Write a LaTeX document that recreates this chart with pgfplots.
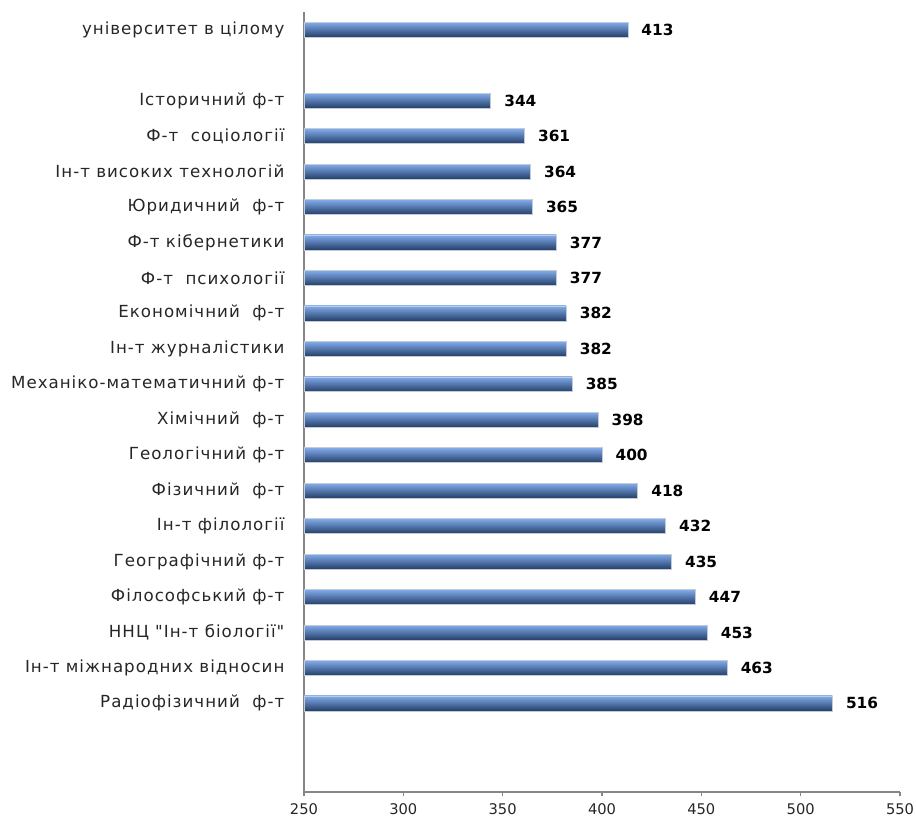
\documentclass[border=0pt]{standalone}
\usepackage{pgfplots}
\pgfplotsset{compat=1.18}
\usepackage{fontspec}
\setmainfont{DejaVu Sans}
\newfontfamily\labfont[LetterSpace=6,Ligatures=TeXOff]{DejaVu Sans}
\definecolor{axgray}{RGB}{134,134,134}
\definecolor{bartop}{RGB}{130,172,236}
\definecolor{barmid}{RGB}{80,128,200}
\definecolor{barbot}{RGB}{36,62,104}
\definecolor{barbrd}{RGB}{195,203,215}
\pgfplotsset{mybar/.style={xbar, bar width=0.42, bar shift=0pt,
  draw=barbrd, line width=0.4pt,
  top color=bartop, middle color=barmid, bottom color=barbot,
  nodes near coords,
  every node near coord/.append style={anchor=west, inner sep=0pt, xshift=10pt,
    font=\fontsize{11.5}{13}\selectfont\bfseries, text=black}}}
\begin{document}
\begin{tikzpicture}
\begin{axis}[
  scale only axis,
  width=447pt, height=585pt,
  xmin=250, xmax=550,
  ymin=0, ymax=22,
  xtick={250,300,...,550},
  axis x line*=bottom,
  axis y line*=left,
  axis line style={draw=axgray, line width=0.8pt},
  x tick style={draw=axgray, line width=0.8pt},
  tick align=outside,
  major tick length=3pt,
  ytick={2.5,3.5,...,19.5,21.5},
  yticklabels={
    Радіофізичний\ \ ф-т,
    Ін-т міжнародних відносин,
    ННЦ "Ін-т біології",
    Філософський ф-т,
    Географічний ф-т,
    Ін-т філології,
    Фізичний\ \ ф-т,
    Геологічний ф-т,
    Хімічний\ \ ф-т,
    Механіко-математичний ф-т,
    Ін-т журналістики,
    Економічний\ \ ф-т,
    Ф-т\ \ психології,
    Ф-т кібернетики,
    Юридичний\ \ ф-т,
    Ін-т високих технологій,
    Ф-т\ \ соціології,
    Історичний ф-т,
    університет в цілому},
  y tick style={draw=none},
  yticklabel style={font=\labfont\fontsize{12.5}{14}\selectfont, inner sep=0pt, xshift=-11.5pt, text=black!85},
  xticklabel style={font=\fontsize{11}{13}\selectfont, text=black!85},
  /pgf/number format/assume math mode=true,
  x tick label style={yshift=-2pt},
  clip=true,
]
\addplot[mybar] coordinates {(516,2.5)};
\addplot[mybar] coordinates {(463,3.5)};
\addplot[mybar] coordinates {(453,4.5)};
\addplot[mybar] coordinates {(447,5.5)};
\addplot[mybar] coordinates {(435,6.5)};
\addplot[mybar] coordinates {(432,7.5)};
\addplot[mybar] coordinates {(418,8.5)};
\addplot[mybar] coordinates {(400,9.5)};
\addplot[mybar] coordinates {(398,10.5)};
\addplot[mybar] coordinates {(385,11.5)};
\addplot[mybar] coordinates {(382,12.5)};
\addplot[mybar] coordinates {(382,13.5)};
\addplot[mybar] coordinates {(377,14.5)};
\addplot[mybar] coordinates {(377,15.5)};
\addplot[mybar] coordinates {(365,16.5)};
\addplot[mybar] coordinates {(364,17.5)};
\addplot[mybar] coordinates {(361,18.5)};
\addplot[mybar] coordinates {(344,19.5)};
\addplot[mybar] coordinates {(413,21.5)};
\end{axis}
\pgfresetboundingbox
\path ([shift={(-228pt,-23.25pt)}]current axis.south west) rectangle ([shift={(12pt,9pt)}]current axis.north east);
\end{tikzpicture}
\end{document}
